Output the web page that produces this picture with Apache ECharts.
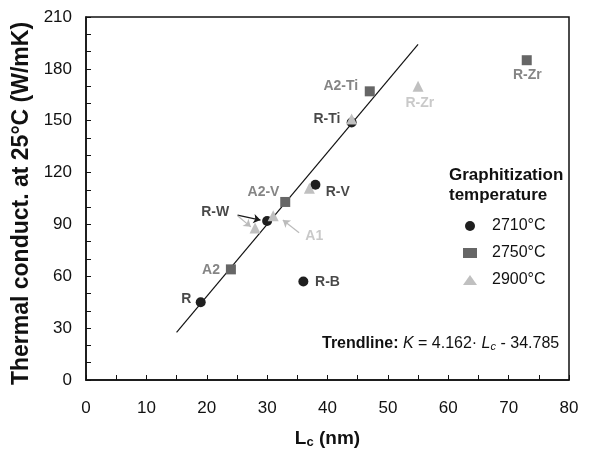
<!DOCTYPE html>
<html>
<head>
<meta charset="utf-8">
<script src="https://cdn.jsdelivr.net/npm/echarts@6/dist/echarts.min.js"></script>
<style>
  html, body { margin: 0; padding: 0; background: #fff; }
  #chart { width: 594px; height: 451px; }
</style>
</head>
<body>
<div id="chart"></div>
<script>
// points: [Lc, K]
var pts2710 = [[19, 45], [30, 92], [38, 113], [36, 57], [44, 149]];
var pts2750 = [[24, 64], [33, 103], [47, 167], [73, 185]];
var pts2900 = [[28, 88], [31, 95], [37, 111], [44, 151], [55, 170]];
var trend = [[15, 27.6], [55, 194.1]];

// point labels: [text, x, y, colour]
var labels = [
  ['R', 16.6, 47, '#1a1a1a'],
  ['A2', 20.7, 63.6, '#666'],
  ['R-W', 21.4, 97.3, '#1a1a1a'],
  ['A1', 37.8, 83, '#bbb'],
  ['A2-V', 29.4, 108.9, '#666'],
  ['R-V', 41.7, 108.9, '#1a1a1a'],
  ['R-B', 40, 56.9, '#1a1a1a'],
  ['R-Ti', 39.9, 150.8, '#1a1a1a'],
  ['A2-Ti', 42.2, 170, '#666'],
  ['R-Zr', 55.3, 160, '#bbb'],
  ['R-Zr', 73.1, 176.4, '#666']
];

// arrows: [from, to, colour]
var arrows = [
  [[25.1, 95.4], [28.9, 92.5], '#1a1a1a'],
  [[25.1, 95], [27.3, 88.6], '#bbb'],
  [[35.3, 85.2], [32.6, 92.6], '#bbb']
];

var chart = echarts.init(document.getElementById('chart'));
var font = 'Liberation Sans, Arial, Helvetica, sans-serif';

chart.setOption({
  animation: false,
  textStyle: { fontFamily: font },
  grid: {
    left: 86, right: 25, top: 17, bottom: 71, containLabel: false, outerBoundsMode: 'none',
    show: true, borderColor: '#111', borderWidth: 1.5
  },
  title: {
    text: 'Graphitization\ntemperature',
    left: 444, top: 160,
    textStyle: { fontFamily: font, fontSize: 17, fontWeight: 'bold', color: '#111', lineHeight: 20 }
  },
  legend: {
    orient: 'vertical', left: 458, top: 213,
    itemWidth: 14, itemHeight: 10, itemGap: 11,
    textStyle: { fontFamily: font, fontSize: 16, color: '#111', padding: [0, 0, 0, 10] },
    data: ['2710°C', '2750°C', '2900°C']
  },
  xAxis: {
    type: 'value', min: 0, max: 80, interval: 10,
    axisLine: { onZero: false, lineStyle: { color: '#111', width: 1.5 } },
    axisTick: { inside: true, length: 5, lineStyle: { color: '#111' } },
    minorTick: { show: true, splitNumber: 2, length: 5, lineStyle: { color: '#111' } },
    splitLine: { show: false },
    axisLabel: { fontSize: 17, color: '#111', margin: 20 },
    name: '{b|L}{s|c}{b| (nm)}',
    nameLocation: 'middle', nameGap: 48,
    nameTextStyle: {
      rich: {
        b: { fontFamily: font, fontSize: 19, fontWeight: 'bold', color: '#111' },
        s: { fontFamily: font, fontSize: 13, fontWeight: 'bold', color: '#111', verticalAlign: 'bottom', padding: [8, 0, 0, 0] }
      }
    }
  },
  yAxis: {
    type: 'value', min: 0, max: 210, interval: 30,
    axisLine: { show: true, onZero: false, lineStyle: { color: '#111', width: 1.5 } },
    axisTick: { show: true, inside: true, length: 5, lineStyle: { color: '#111' } },
    minorTick: { show: true, splitNumber: 3, length: 5, lineStyle: { color: '#111' } },
    splitLine: { show: false },
    axisLabel: { fontSize: 17, color: '#111', margin: 14 },
    name: 'Thermal conduct. at 25°C (W/mK)',
    nameLocation: 'middle', nameGap: 45,
    nameTextStyle: { fontFamily: font, fontSize: 23, fontWeight: 'bold', color: '#111', padding: [0, 10, 0, 0] }
  },
  graphic: [{
    type: 'text', left: 322, top: 336,
    style: {
      text: '{b|Trendline: }{i|K}{n| = 4.162· }{i|L}{s|c}{n| - 34.785}',
      rich: {
        b: { fontFamily: font, fontSize: 16, fontWeight: 'bold', fill: '#111' },
        i: { fontFamily: font, fontSize: 16, fontStyle: 'italic', fill: '#111' },
        n: { fontFamily: font, fontSize: 16, fill: '#111' },
        s: { fontFamily: font, fontSize: 11, fontStyle: 'italic', fill: '#111', verticalAlign: 'bottom', padding: [6, 0, 0, 0] }
      }
    }
  }],
  series: [
    {
      type: 'line', data: trend, symbol: 'none', silent: true,
      lineStyle: { color: '#111', width: 1.2 }, z: 1
    },
    {
      name: '2710°C', type: 'scatter', data: pts2710, symbol: 'circle', symbolSize: 10,
      itemStyle: { color: '#1f1f1f', opacity: 1 }, z: 2
    },
    {
      name: '2750°C', type: 'scatter', data: pts2750, symbol: 'rect', symbolSize: 10,
      itemStyle: { color: '#666', opacity: 1 }, z: 3
    },
    {
      name: '2900°C', type: 'scatter', data: pts2900, symbol: 'triangle', symbolSize: 11,
      itemStyle: { color: '#c0c0c0', opacity: 1 }, z: 4
    },
    {
      type: 'scatter', silent: true, symbolSize: 0, z: 5,
      data: labels.map(function (l) {
        return {
          value: [l[1], l[2]],
          label: { show: true, position: 'inside', formatter: l[0], color: l[3], fontFamily: font, fontSize: 14, fontWeight: 'bold' }
        };
      }),
      markLine: {
        silent: true, symbol: ['none', 'arrow'], symbolSize: 7, label: { show: false },
        data: arrows.map(function (a) {
          return [
            { coord: a[0], lineStyle: { color: a[2], width: 1.2, type: 'solid' } },
            { coord: a[1] }
          ];
        })
      }
    }
  ]
});
</script>
</body>
</html>
